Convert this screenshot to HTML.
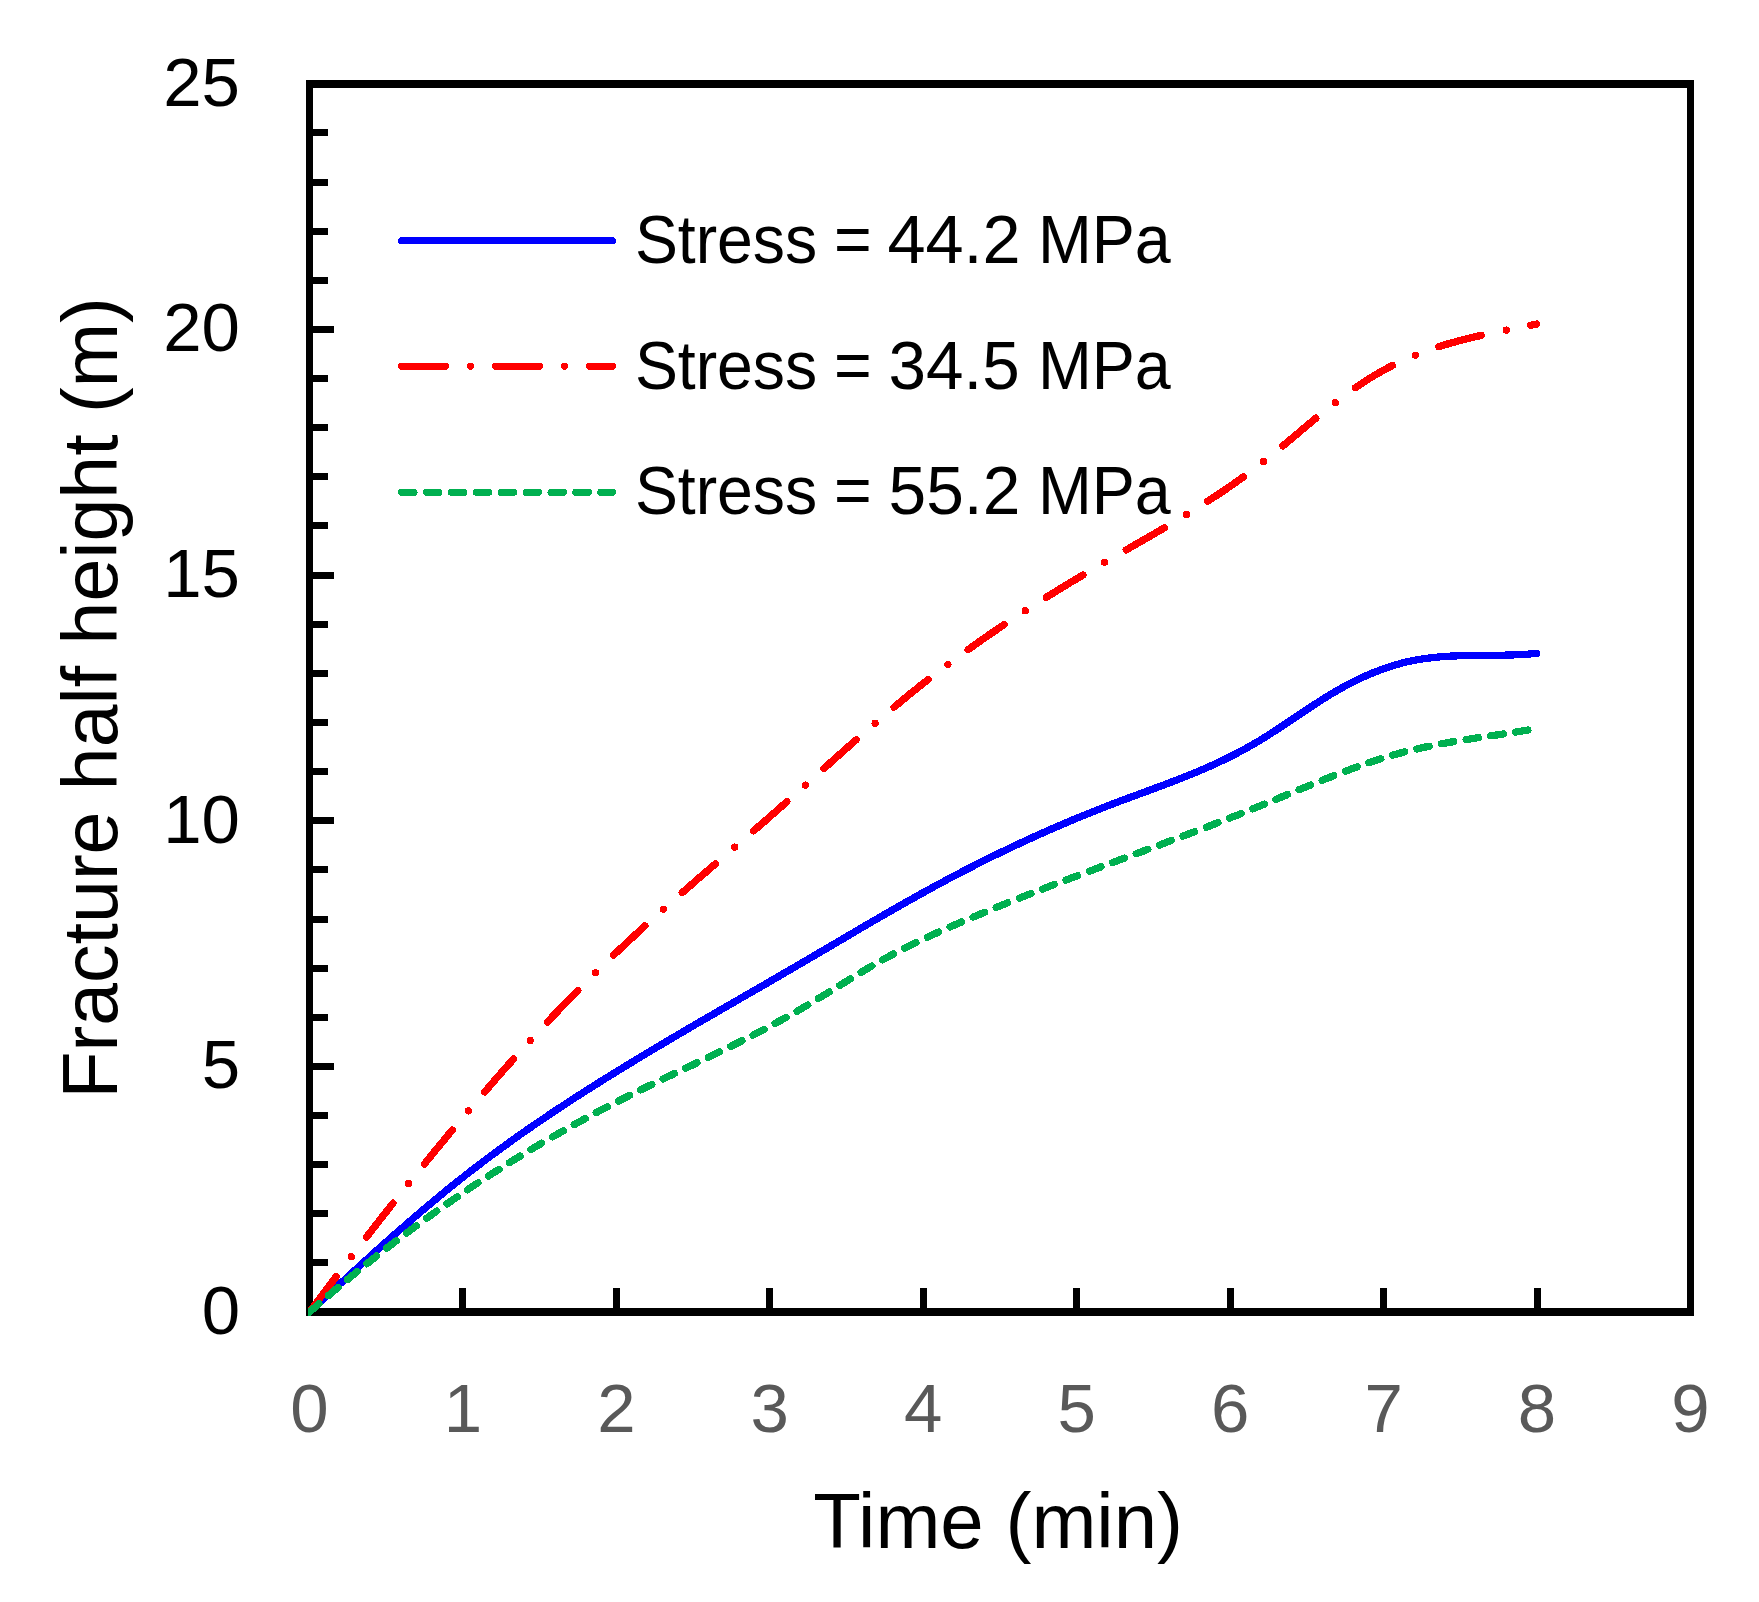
<!DOCTYPE html>
<html><head><meta charset="utf-8"><title>Fracture half height vs time</title>
<style>html,body{margin:0;padding:0;background:#fff;overflow:hidden;}svg{display:block;}text{font-family:"Liberation Sans",Arial,sans-serif;}</style></head><body>
<svg width="1759" height="1602" viewBox="0 0 1759 1602">
<rect x="0" y="0" width="1759" height="1602" fill="#fff"/>
<g fill="#000" shape-rendering="crispEdges">
<rect x="306" y="80" width="7" height="1236"/>
<rect x="306" y="80" width="1388" height="8"/>
<rect x="1687" y="80" width="7" height="1236"/>
<rect x="306" y="1308" width="1388" height="8"/>
<rect x="313" y="1259.4" width="15" height="7"/>
<rect x="313" y="1210.2" width="15" height="7"/>
<rect x="313" y="1161.1" width="15" height="7"/>
<rect x="313" y="1112.0" width="15" height="7"/>
<rect x="313" y="1062.8" width="21" height="7"/>
<rect x="313" y="1013.7" width="15" height="7"/>
<rect x="313" y="964.6" width="15" height="7"/>
<rect x="313" y="915.5" width="15" height="7"/>
<rect x="313" y="866.3" width="15" height="7"/>
<rect x="313" y="817.2" width="21" height="7"/>
<rect x="313" y="768.1" width="15" height="7"/>
<rect x="313" y="718.9" width="15" height="7"/>
<rect x="313" y="669.8" width="15" height="7"/>
<rect x="313" y="620.7" width="15" height="7"/>
<rect x="313" y="571.5" width="21" height="7"/>
<rect x="313" y="522.4" width="15" height="7"/>
<rect x="313" y="473.3" width="15" height="7"/>
<rect x="313" y="424.2" width="15" height="7"/>
<rect x="313" y="375.0" width="15" height="7"/>
<rect x="313" y="325.9" width="21" height="7"/>
<rect x="313" y="276.8" width="15" height="7"/>
<rect x="313" y="227.6" width="15" height="7"/>
<rect x="313" y="178.5" width="15" height="7"/>
<rect x="313" y="129.4" width="15" height="7"/>
<rect x="459.4" y="1288" width="7" height="20"/>
<rect x="612.9" y="1288" width="7" height="20"/>
<rect x="766.3" y="1288" width="7" height="20"/>
<rect x="919.8" y="1288" width="7" height="20"/>
<rect x="1073.2" y="1288" width="7" height="20"/>
<rect x="1226.6" y="1288" width="7" height="20"/>
<rect x="1380.1" y="1288" width="7" height="20"/>
<rect x="1533.5" y="1288" width="7" height="20"/>
</g>
<g font-size="69" fill="#000" text-anchor="end">
<text x="240" y="1334.0">0</text>
<text x="240" y="1088.3">5</text>
<text x="240" y="842.7">10</text>
<text x="240" y="597.0">15</text>
<text x="240" y="351.4">20</text>
<text x="240" y="105.8">25</text>
</g>
<g font-size="69" fill="#595959" text-anchor="middle">
<text x="309.5" y="1432">0</text>
<text x="462.9" y="1432">1</text>
<text x="616.4" y="1432">2</text>
<text x="769.8" y="1432">3</text>
<text x="923.3" y="1432">4</text>
<text x="1076.7" y="1432">5</text>
<text x="1230.1" y="1432">6</text>
<text x="1383.6" y="1432">7</text>
<text x="1537.0" y="1432">8</text>
<text x="1690.5" y="1432">9</text>
</g>
<text x="998.2" y="1548" font-size="78" text-anchor="middle" fill="#000">Time (min)</text>
<text transform="translate(117,698) rotate(-90)" font-size="77.1" text-anchor="middle" fill="#000">Fracture half height (m)</text>
<g stroke-width="7" stroke-linecap="round" fill="none" shape-rendering="crispEdges">
<line x1="401.5" y1="240.5" x2="612.5" y2="240.5" stroke="#0000FF"/>
<line x1="401.5" y1="366.4" x2="612.5" y2="366.4" stroke="#FF0000" stroke-dasharray="44 25 0.01 25"/>
<line x1="401.5" y1="492.3" x2="612.5" y2="492.3" stroke="#00B050" stroke-dasharray="12.6 12.3"/>
</g>
<g font-size="68" fill="#000">
<text x="634.9" y="262.8" textLength="182.3" lengthAdjust="spacingAndGlyphs">Stress</text>
<text x="834.1" y="262.8" textLength="37.7" lengthAdjust="spacingAndGlyphs">=</text>
<text x="887.4" y="262.8" textLength="133.3" lengthAdjust="spacingAndGlyphs">44.2</text>
<text x="1038.0" y="262.8" textLength="132.8" lengthAdjust="spacingAndGlyphs">MPa</text>
<text x="634.9" y="388.5" textLength="182.3" lengthAdjust="spacingAndGlyphs">Stress</text>
<text x="834.1" y="388.5" textLength="37.7" lengthAdjust="spacingAndGlyphs">=</text>
<text x="888.6" y="388.5" textLength="131.2" lengthAdjust="spacingAndGlyphs">34.5</text>
<text x="1038.0" y="388.5" textLength="132.8" lengthAdjust="spacingAndGlyphs">MPa</text>
<text x="634.9" y="513.7" textLength="182.3" lengthAdjust="spacingAndGlyphs">Stress</text>
<text x="834.1" y="513.7" textLength="37.7" lengthAdjust="spacingAndGlyphs">=</text>
<text x="888.6" y="513.7" textLength="131.7" lengthAdjust="spacingAndGlyphs">55.2</text>
<text x="1038.0" y="513.7" textLength="132.8" lengthAdjust="spacingAndGlyphs">MPa</text>
</g>
<defs><clipPath id="pa"><rect x="308" y="80" width="1386" height="1236"/></clipPath></defs>
<g clip-path="url(#pa)" shape-rendering="crispEdges" fill="none" stroke-width="7.3" stroke-linecap="round" stroke-linejoin="round">
<path d="M309.5 1312.0 L312.5 1309.2 L315.5 1306.5 L318.5 1303.7 L321.5 1301.0 L324.5 1298.2 L327.5 1295.4 L330.5 1292.7 L333.4 1289.9 L336.4 1287.2 L339.4 1284.4 L342.4 1281.7 L345.4 1278.9 L348.4 1276.2 L351.4 1273.4 L354.4 1270.7 L357.4 1268.0 L360.4 1265.3 L363.4 1262.5 L366.4 1259.8 L369.4 1257.1 L372.4 1254.4 L375.3 1251.7 L378.3 1249.0 L381.3 1246.3 L384.3 1243.7 L387.3 1241.0 L390.3 1238.3 L393.3 1235.7 L396.3 1233.0 L399.3 1230.4 L402.3 1227.8 L405.3 1225.2 L408.3 1222.6 L411.3 1220.0 L414.3 1217.4 L417.3 1214.8 L420.2 1212.3 L423.2 1209.7 L426.2 1207.2 L429.2 1204.7 L432.2 1202.2 L435.2 1199.7 L438.2 1197.2 L441.2 1194.7 L444.2 1192.3 L447.2 1189.8 L450.2 1187.4 L453.2 1185.0 L456.2 1182.6 L459.2 1180.2 L462.2 1177.9 L465.1 1175.5 L468.1 1173.2 L471.1 1170.9 L474.1 1168.5 L477.1 1166.3 L480.1 1164.0 L483.1 1161.7 L486.1 1159.5 L489.1 1157.2 L492.1 1155.0 L495.1 1152.8 L498.1 1150.6 L501.1 1148.4 L504.1 1146.2 L507.0 1144.1 L510.0 1141.9 L513.0 1139.8 L516.0 1137.6 L519.0 1135.5 L522.0 1133.4 L525.0 1131.3 L528.0 1129.2 L531.0 1127.2 L534.0 1125.1 L537.0 1123.0 L540.0 1121.0 L543.0 1119.0 L546.0 1116.9 L549.0 1114.9 L551.9 1112.9 L554.9 1110.9 L557.9 1108.9 L560.9 1107.0 L563.9 1105.0 L566.9 1103.0 L569.9 1101.1 L572.9 1099.1 L575.9 1097.2 L578.9 1095.3 L581.9 1093.4 L584.9 1091.4 L587.9 1089.5 L590.9 1087.6 L593.9 1085.7 L596.8 1083.9 L599.8 1082.0 L602.8 1080.1 L605.8 1078.2 L608.8 1076.4 L611.8 1074.5 L614.8 1072.7 L617.8 1070.8 L620.8 1069.0 L623.8 1067.2 L626.8 1065.3 L629.8 1063.5 L632.8 1061.7 L635.8 1059.9 L638.7 1058.1 L641.7 1056.3 L644.7 1054.5 L647.7 1052.7 L650.7 1050.9 L653.7 1049.1 L656.7 1047.3 L659.7 1045.5 L662.7 1043.8 L665.7 1042.0 L668.7 1040.2 L671.7 1038.4 L674.7 1036.7 L677.7 1034.9 L680.7 1033.2 L683.6 1031.4 L686.6 1029.7 L689.6 1027.9 L692.6 1026.2 L695.6 1024.4 L698.6 1022.7 L701.6 1020.9 L704.6 1019.2 L707.6 1017.5 L710.6 1015.7 L713.6 1014.0 L716.6 1012.3 L719.6 1010.5 L722.6 1008.8 L725.6 1007.1 L728.5 1005.3 L731.5 1003.6 L734.5 1001.9 L737.5 1000.2 L740.5 998.4 L743.5 996.7 L746.5 995.0 L749.5 993.3 L752.5 991.5 L755.5 989.8 L758.5 988.1 L761.5 986.4 L764.5 984.6 L767.5 982.9 L770.4 981.2 L773.4 979.4 L776.4 977.7 L779.4 976.0 L782.4 974.2 L785.4 972.5 L788.4 970.8 L791.4 969.0 L794.4 967.3 L797.4 965.5 L800.4 963.8 L803.4 962.0 L806.4 960.3 L809.4 958.5 L812.4 956.8 L815.3 955.0 L818.3 953.2 L821.3 951.5 L824.3 949.7 L827.3 948.0 L830.3 946.2 L833.3 944.4 L836.3 942.7 L839.3 940.9 L842.3 939.2 L845.3 937.4 L848.3 935.6 L851.3 933.9 L854.3 932.1 L857.3 930.4 L860.2 928.6 L863.2 926.9 L866.2 925.1 L869.2 923.4 L872.2 921.6 L875.2 919.9 L878.2 918.2 L881.2 916.4 L884.2 914.7 L887.2 913.0 L890.2 911.3 L893.2 909.5 L896.2 907.8 L899.2 906.1 L902.1 904.4 L905.1 902.7 L908.1 901.0 L911.1 899.4 L914.1 897.7 L917.1 896.0 L920.1 894.3 L923.1 892.7 L926.1 891.0 L929.1 889.4 L932.1 887.7 L935.1 886.1 L938.1 884.5 L941.1 882.9 L944.1 881.3 L947.0 879.7 L950.0 878.1 L953.0 876.5 L956.0 874.9 L959.0 873.4 L962.0 871.8 L965.0 870.3 L968.0 868.7 L971.0 867.2 L974.0 865.7 L977.0 864.1 L980.0 862.6 L983.0 861.1 L986.0 859.6 L988.9 858.2 L991.9 856.7 L994.9 855.2 L997.9 853.8 L1000.9 852.3 L1003.9 850.9 L1006.9 849.4 L1009.9 848.0 L1012.9 846.6 L1015.9 845.2 L1018.9 843.8 L1021.9 842.4 L1024.9 841.0 L1027.9 839.6 L1030.9 838.3 L1033.8 836.9 L1036.8 835.5 L1039.8 834.2 L1042.8 832.9 L1045.8 831.5 L1048.8 830.2 L1051.8 828.9 L1054.8 827.6 L1057.8 826.3 L1060.8 825.0 L1063.8 823.7 L1066.8 822.5 L1069.8 821.2 L1072.8 819.9 L1075.8 818.7 L1078.7 817.4 L1081.7 816.2 L1084.7 815.0 L1087.7 813.8 L1090.7 812.6 L1093.7 811.4 L1096.7 810.2 L1099.7 809.0 L1102.7 807.8 L1105.7 806.7 L1108.7 805.5 L1111.7 804.3 L1114.7 803.2 L1117.7 802.1 L1120.6 800.9 L1123.6 799.8 L1126.6 798.7 L1129.6 797.6 L1132.6 796.5 L1135.6 795.4 L1138.6 794.3 L1141.6 793.2 L1144.6 792.1 L1147.6 791.0 L1150.6 789.9 L1153.6 788.8 L1156.6 787.6 L1159.6 786.5 L1162.6 785.4 L1165.5 784.3 L1168.5 783.1 L1171.5 782.0 L1174.5 780.9 L1177.5 779.7 L1180.5 778.5 L1183.5 777.3 L1186.5 776.1 L1189.5 774.9 L1192.5 773.7 L1195.5 772.5 L1198.5 771.2 L1201.5 769.9 L1204.5 768.7 L1207.5 767.4 L1210.4 766.0 L1213.4 764.7 L1216.4 763.3 L1219.4 761.9 L1222.4 760.5 L1225.4 759.1 L1228.4 757.6 L1231.4 756.1 L1234.4 754.6 L1237.4 753.0 L1240.4 751.4 L1243.4 749.8 L1246.4 748.2 L1249.4 746.5 L1252.3 744.8 L1255.3 743.1 L1258.3 741.3 L1261.3 739.5 L1264.3 737.6 L1267.3 735.7 L1270.3 733.8 L1273.3 731.9 L1276.3 730.0 L1279.3 728.0 L1282.3 726.0 L1285.3 724.0 L1288.3 722.0 L1291.3 720.0 L1294.3 718.0 L1297.2 716.0 L1300.2 714.0 L1303.2 712.0 L1306.2 710.0 L1309.2 708.0 L1312.2 706.0 L1315.2 704.1 L1318.2 702.1 L1321.2 700.2 L1324.2 698.3 L1327.2 696.5 L1330.2 694.6 L1333.2 692.8 L1336.2 691.1 L1339.2 689.4 L1342.1 687.7 L1345.1 686.0 L1348.1 684.5 L1351.1 682.9 L1354.1 681.4 L1357.1 679.9 L1360.1 678.5 L1363.1 677.1 L1366.1 675.7 L1369.1 674.4 L1372.1 673.2 L1375.1 672.0 L1378.1 670.8 L1381.1 669.7 L1384.0 668.6 L1387.0 667.6 L1390.0 666.6 L1393.0 665.6 L1396.0 664.7 L1399.0 663.9 L1402.0 663.1 L1405.0 662.3 L1408.0 661.6 L1411.0 661.0 L1414.0 660.4 L1417.0 659.8 L1420.0 659.3 L1423.0 658.8 L1426.0 658.4 L1428.9 658.0 L1431.9 657.7 L1434.9 657.3 L1437.9 657.1 L1440.9 656.8 L1443.9 656.6 L1446.9 656.4 L1449.9 656.2 L1452.9 656.0 L1455.9 655.9 L1458.9 655.8 L1461.9 655.7 L1464.9 655.6 L1467.9 655.6 L1470.9 655.5 L1473.8 655.5 L1476.8 655.4 L1479.8 655.4 L1482.8 655.4 L1485.8 655.4 L1488.8 655.4 L1491.8 655.3 L1494.8 655.3 L1497.8 655.3 L1500.8 655.2 L1503.8 655.2 L1506.8 655.1 L1509.8 655.0 L1512.8 654.9 L1515.7 654.8 L1518.7 654.7 L1521.7 654.5 L1524.7 654.4 L1527.7 654.2 L1530.7 653.9 L1533.7 653.7 L1536.7 653.4" stroke="#0000FF"/>
<path d="M309.5 1312.0 L311.3 1309.6 L313.0 1307.3 L314.8 1304.9 L316.6 1302.6 L318.3 1300.2 L320.1 1297.9 L321.9 1295.5 L323.7 1293.2 L325.4 1290.8 L327.2 1288.4 L329.0 1286.1 L330.8 1283.7 L332.6 1281.4 L334.3 1279.0 L336.1 1276.7 M366.6 1237.0 L368.3 1234.8 L370.1 1232.5 L371.8 1230.2 L373.6 1228.0 L375.4 1225.7 L377.1 1223.5 L378.9 1221.2 L380.6 1218.9 L382.4 1216.7 L384.2 1214.4 L385.9 1212.2 L387.7 1209.9 L389.5 1207.7 L391.3 1205.4 L393.0 1203.2 M424.3 1164.1 L426.1 1161.9 L428.0 1159.6 L429.8 1157.3 L431.7 1155.0 L433.5 1152.8 L435.4 1150.5 L437.3 1148.2 L439.1 1146.0 L441.0 1143.7 L442.9 1141.4 L444.7 1139.2 L446.6 1136.9 L448.5 1134.6 L450.3 1132.4 L452.2 1130.1 M484.6 1091.9 L486.6 1089.7 L488.5 1087.5 L490.4 1085.3 L492.3 1083.1 L494.2 1080.9 L496.1 1078.7 L498.1 1076.5 L500.0 1074.3 L501.9 1072.1 L503.8 1069.9 L505.8 1067.7 L507.7 1065.5 L509.6 1063.4 L511.6 1061.2 L513.5 1059.0 M547.3 1022.1 L549.3 1020.0 L551.3 1017.9 L553.3 1015.7 L555.3 1013.6 L557.4 1011.5 L559.4 1009.4 L561.4 1007.2 L563.4 1005.1 L565.5 1003.0 L567.5 1000.9 L569.6 998.8 L571.6 996.7 L573.7 994.6 L575.7 992.5 L577.8 990.4 M613.5 955.3 L615.5 953.3 L617.6 951.3 L619.7 949.3 L621.8 947.4 L623.9 945.4 L626.0 943.4 L628.1 941.5 L630.2 939.5 L632.3 937.6 L634.4 935.6 L636.5 933.7 L638.6 931.7 L640.7 929.8 L642.8 927.9 L644.9 925.9 M682.2 892.6 L684.4 890.7 L686.6 888.8 L688.9 886.8 L691.1 884.9 L693.3 883.0 L695.5 881.1 L697.7 879.1 L699.9 877.2 L702.1 875.3 L704.4 873.4 L706.6 871.5 L708.8 869.5 L711.0 867.6 L713.2 865.7 L715.5 863.8 M753.7 830.8 L755.9 828.9 L758.1 826.9 L760.4 825.0 L762.6 823.1 L764.8 821.2 L767.0 819.2 L769.2 817.3 L771.4 815.4 L773.6 813.4 L775.8 811.5 L778.0 809.5 L780.2 807.6 L782.4 805.6 L784.6 803.7 L786.8 801.8 M824.0 768.4 L826.2 766.5 L828.3 764.6 L830.4 762.7 L832.6 760.7 L834.7 758.8 L836.9 756.9 L839.0 755.0 L841.2 753.1 L843.3 751.2 L845.5 749.3 L847.6 747.3 L849.8 745.4 L851.9 743.5 L854.1 741.6 L856.3 739.7 M894.1 707.1 L896.4 705.2 L898.6 703.4 L900.8 701.5 L903.1 699.7 L905.3 697.8 L907.6 696.0 L909.8 694.1 L912.1 692.3 L914.4 690.5 L916.6 688.7 L918.9 686.8 L921.2 685.0 L923.5 683.2 L925.8 681.4 L928.0 679.6 M968.1 649.7 L970.4 648.0 L972.8 646.3 L975.2 644.6 L977.6 642.9 L980.0 641.2 L982.4 639.5 L984.8 637.8 L987.2 636.1 L989.6 634.5 L992.1 632.8 L994.5 631.2 L996.9 629.5 L999.3 627.9 L1001.8 626.2 L1004.2 624.6 M1046.3 597.3 L1048.7 595.8 L1051.2 594.3 L1053.6 592.8 L1056.0 591.3 L1058.5 589.8 L1060.9 588.3 L1063.4 586.8 L1065.8 585.3 L1068.3 583.8 L1070.7 582.3 L1073.2 580.9 L1075.6 579.4 L1078.1 577.9 L1080.5 576.5 L1083.0 575.0 M1126.2 549.9 L1128.8 548.4 L1131.3 546.9 L1133.9 545.5 L1136.4 544.0 L1138.9 542.6 L1141.5 541.1 L1144.0 539.7 L1146.6 538.2 L1149.1 536.7 L1151.7 535.3 L1154.2 533.8 L1156.7 532.3 L1159.3 530.8 L1161.8 529.4 L1164.3 527.9 M1207.7 501.3 L1210.1 499.7 L1212.5 498.1 L1215.0 496.5 L1217.4 494.9 L1219.8 493.3 L1222.2 491.7 L1224.6 490.1 L1227.0 488.4 L1229.4 486.8 L1231.8 485.1 L1234.1 483.5 L1236.5 481.8 L1238.9 480.1 L1241.2 478.4 L1243.6 476.7 M1282.9 445.9 L1285.1 444.0 L1287.3 442.2 L1289.5 440.3 L1291.7 438.5 L1293.9 436.6 L1296.1 434.8 L1298.3 433.0 L1300.4 431.1 L1302.6 429.3 L1304.8 427.4 L1307.0 425.6 L1309.2 423.7 L1311.4 421.9 L1313.6 420.1 L1315.8 418.2 M1355.4 387.7 L1357.8 386.1 L1360.2 384.5 L1362.6 382.9 L1365.0 381.3 L1367.4 379.7 L1369.9 378.2 L1372.3 376.7 L1374.8 375.2 L1377.3 373.7 L1379.8 372.3 L1382.3 370.9 L1384.8 369.5 L1387.4 368.1 L1390.0 366.8 L1392.5 365.5 M1438.8 346.7 L1441.6 345.8 L1444.4 344.9 L1447.2 344.1 L1450.0 343.3 L1452.9 342.5 L1455.7 341.7 L1458.5 340.9 L1461.4 340.2 L1464.2 339.4 L1467.0 338.7 L1469.9 338.0 L1472.7 337.3 L1475.6 336.7 L1478.5 336.0 L1481.3 335.4 M1530.8 325.2 L1533.7 324.7 L1536.5 324.1" stroke="#FF0000"/>
<g fill="#FF0000" stroke="none">
<circle cx="351.3" cy="1256.8" r="3.65"/>
<circle cx="408.6" cy="1183.6" r="3.65"/>
<circle cx="468.4" cy="1110.9" r="3.65"/>
<circle cx="530.3" cy="1040.5" r="3.65"/>
<circle cx="595.5" cy="972.7" r="3.65"/>
<circle cx="663.5" cy="909.2" r="3.65"/>
<circle cx="734.8" cy="847.1" r="3.65"/>
<circle cx="805.4" cy="785.1" r="3.65"/>
<circle cx="875.1" cy="723.3" r="3.65"/>
<circle cx="947.9" cy="664.5" r="3.65"/>
<circle cx="1025.2" cy="610.8" r="3.65"/>
<circle cx="1104.5" cy="562.3" r="3.65"/>
<circle cx="1186.5" cy="514.6" r="3.65"/>
<circle cx="1263.5" cy="461.6" r="3.65"/>
<circle cx="1335.3" cy="402.6" r="3.65"/>
<circle cx="1415.3" cy="355.2" r="3.65"/>
<circle cx="1506.3" cy="330.1" r="3.65"/>
</g>
<path d="M309.5 1312.0 L312.5 1309.4 L315.5 1306.8 L318.5 1304.2 L321.5 1301.6 L324.5 1299.0 L327.5 1296.4 L330.5 1293.9 L333.4 1291.3 L336.4 1288.8 L339.4 1286.3 L342.4 1283.8 L345.4 1281.3 L348.4 1278.8 L351.4 1276.3 L354.4 1273.9 L357.4 1271.4 L360.4 1269.0 L363.4 1266.6 L366.4 1264.2 L369.4 1261.8 L372.4 1259.4 L375.3 1257.0 L378.3 1254.7 L381.3 1252.3 L384.3 1250.0 L387.3 1247.7 L390.3 1245.4 L393.3 1243.1 L396.3 1240.8 L399.3 1238.5 L402.3 1236.3 L405.3 1234.0 L408.3 1231.8 L411.3 1229.6 L414.3 1227.3 L417.3 1225.1 L420.2 1223.0 L423.2 1220.8 L426.2 1218.6 L429.2 1216.4 L432.2 1214.3 L435.2 1212.2 L438.2 1210.0 L441.2 1207.9 L444.2 1205.8 L447.2 1203.7 L450.2 1201.7 L453.2 1199.6 L456.2 1197.5 L459.2 1195.5 L462.2 1193.5 L465.1 1191.4 L468.1 1189.4 L471.1 1187.4 L474.1 1185.4 L477.1 1183.4 L480.1 1181.5 L483.1 1179.5 L486.1 1177.6 L489.1 1175.6 L492.1 1173.7 L495.1 1171.8 L498.1 1169.9 L501.1 1168.0 L504.1 1166.1 L507.0 1164.2 L510.0 1162.3 L513.0 1160.5 L516.0 1158.6 L519.0 1156.8 L522.0 1154.9 L525.0 1153.1 L528.0 1151.3 L531.0 1149.5 L534.0 1147.7 L537.0 1145.9 L540.0 1144.2 L543.0 1142.4 L546.0 1140.7 L549.0 1138.9 L551.9 1137.2 L554.9 1135.5 L557.9 1133.8 L560.9 1132.1 L563.9 1130.4 L566.9 1128.7 L569.9 1127.0 L572.9 1125.3 L575.9 1123.7 L578.9 1122.0 L581.9 1120.4 L584.9 1118.8 L587.9 1117.1 L590.9 1115.5 L593.9 1113.9 L596.8 1112.3 L599.8 1110.7 L602.8 1109.1 L605.8 1107.6 L608.8 1106.0 L611.8 1104.5 L614.8 1102.9 L617.8 1101.4 L620.8 1099.9 L623.8 1098.3 L626.8 1096.8 L629.8 1095.3 L632.8 1093.8 L635.8 1092.3 L638.7 1090.9 L641.7 1089.4 L644.7 1087.9 L647.7 1086.4 L650.7 1085.0 L653.7 1083.5 L656.7 1082.1 L659.7 1080.6 L662.7 1079.2 L665.7 1077.8 L668.7 1076.3 L671.7 1074.9 L674.7 1073.4 L677.7 1072.0 L680.7 1070.6 L683.6 1069.1 L686.6 1067.7 L689.6 1066.3 L692.6 1064.9 L695.6 1063.4 L698.6 1062.0 L701.6 1060.5 L704.6 1059.1 L707.6 1057.7 L710.6 1056.2 L713.6 1054.8 L716.6 1053.3 L719.6 1051.9 L722.6 1050.4 L725.6 1048.9 L728.5 1047.4 L731.5 1046.0 L734.5 1044.5 L737.5 1043.0 L740.5 1041.5 L743.5 1040.0 L746.5 1038.5 L749.5 1036.9 L752.5 1035.4 L755.5 1033.9 L758.5 1032.3 L761.5 1030.7 L764.5 1029.2 L767.5 1027.6 L770.4 1026.0 L773.4 1024.4 L776.4 1022.7 L779.4 1021.1 L782.4 1019.5 L785.4 1017.8 L788.4 1016.1 L791.4 1014.4 L794.4 1012.7 L797.4 1011.0 L800.4 1009.3 L803.4 1007.5 L806.4 1005.8 L809.4 1004.0 L812.4 1002.2 L815.3 1000.4 L818.3 998.6 L821.3 996.7 L824.3 994.9 L827.3 993.1 L830.3 991.2 L833.3 989.4 L836.3 987.5 L839.3 985.7 L842.3 983.8 L845.3 982.0 L848.3 980.2 L851.3 978.3 L854.3 976.5 L857.3 974.7 L860.2 972.9 L863.2 971.1 L866.2 969.3 L869.2 967.6 L872.2 965.8 L875.2 964.1 L878.2 962.4 L881.2 960.7 L884.2 959.0 L887.2 957.4 L890.2 955.7 L893.2 954.1 L896.2 952.6 L899.2 951.0 L902.1 949.5 L905.1 948.0 L908.1 946.5 L911.1 945.0 L914.1 943.5 L917.1 942.1 L920.1 940.6 L923.1 939.2 L926.1 937.8 L929.1 936.4 L932.1 935.0 L935.1 933.7 L938.1 932.3 L941.1 931.0 L944.1 929.6 L947.0 928.3 L950.0 927.0 L953.0 925.7 L956.0 924.4 L959.0 923.1 L962.0 921.8 L965.0 920.5 L968.0 919.3 L971.0 918.0 L974.0 916.7 L977.0 915.5 L980.0 914.2 L983.0 913.0 L986.0 911.7 L988.9 910.5 L991.9 909.2 L994.9 908.0 L997.9 906.8 L1000.9 905.6 L1003.9 904.4 L1006.9 903.1 L1009.9 901.9 L1012.9 900.7 L1015.9 899.5 L1018.9 898.4 L1021.9 897.2 L1024.9 896.0 L1027.9 894.8 L1030.9 893.6 L1033.8 892.5 L1036.8 891.3 L1039.8 890.1 L1042.8 889.0 L1045.8 887.8 L1048.8 886.6 L1051.8 885.5 L1054.8 884.3 L1057.8 883.2 L1060.8 882.0 L1063.8 880.9 L1066.8 879.8 L1069.8 878.6 L1072.8 877.5 L1075.8 876.3 L1078.7 875.2 L1081.7 874.1 L1084.7 873.0 L1087.7 871.8 L1090.7 870.7 L1093.7 869.6 L1096.7 868.4 L1099.7 867.3 L1102.7 866.2 L1105.7 865.1 L1108.7 864.0 L1111.7 862.8 L1114.7 861.7 L1117.7 860.6 L1120.6 859.5 L1123.6 858.4 L1126.6 857.3 L1129.6 856.1 L1132.6 855.0 L1135.6 853.9 L1138.6 852.8 L1141.6 851.7 L1144.6 850.6 L1147.6 849.4 L1150.6 848.3 L1153.6 847.2 L1156.6 846.1 L1159.6 845.0 L1162.6 843.8 L1165.5 842.7 L1168.5 841.6 L1171.5 840.4 L1174.5 839.3 L1177.5 838.2 L1180.5 837.1 L1183.5 835.9 L1186.5 834.8 L1189.5 833.6 L1192.5 832.5 L1195.5 831.4 L1198.5 830.2 L1201.5 829.1 L1204.5 827.9 L1207.5 826.8 L1210.4 825.6 L1213.4 824.4 L1216.4 823.3 L1219.4 822.1 L1222.4 821.0 L1225.4 819.8 L1228.4 818.6 L1231.4 817.4 L1234.4 816.2 L1237.4 815.1 L1240.4 813.9 L1243.4 812.7 L1246.4 811.5 L1249.4 810.3 L1252.3 809.1 L1255.3 807.8 L1258.3 806.6 L1261.3 805.4 L1264.3 804.2 L1267.3 802.9 L1270.3 801.7 L1273.3 800.5 L1276.3 799.2 L1279.3 798.0 L1282.3 796.7 L1285.3 795.5 L1288.3 794.2 L1291.3 793.0 L1294.3 791.8 L1297.2 790.5 L1300.2 789.3 L1303.2 788.0 L1306.2 786.8 L1309.2 785.6 L1312.2 784.3 L1315.2 783.1 L1318.2 781.9 L1321.2 780.7 L1324.2 779.5 L1327.2 778.3 L1330.2 777.1 L1333.2 775.9 L1336.2 774.8 L1339.2 773.6 L1342.1 772.4 L1345.1 771.3 L1348.1 770.2 L1351.1 769.1 L1354.1 768.0 L1357.1 766.9 L1360.1 765.8 L1363.1 764.8 L1366.1 763.7 L1369.1 762.7 L1372.1 761.7 L1375.1 760.7 L1378.1 759.7 L1381.1 758.8 L1384.0 757.8 L1387.0 756.9 L1390.0 756.0 L1393.0 755.1 L1396.0 754.3 L1399.0 753.4 L1402.0 752.6 L1405.0 751.8 L1408.0 751.1 L1411.0 750.3 L1414.0 749.6 L1417.0 748.9 L1420.0 748.2 L1423.0 747.6 L1426.0 746.9 L1428.9 746.3 L1431.9 745.7 L1434.9 745.1 L1437.9 744.5 L1440.9 743.9 L1443.9 743.4 L1446.9 742.8 L1449.9 742.3 L1452.9 741.8 L1455.9 741.3 L1458.9 740.8 L1461.9 740.3 L1464.9 739.8 L1467.9 739.3 L1470.9 738.9 L1473.8 738.4 L1476.8 737.9 L1479.8 737.5 L1482.8 737.0 L1485.8 736.6 L1488.8 736.1 L1491.8 735.7 L1494.8 735.2 L1497.8 734.8 L1500.8 734.3 L1503.8 733.9 L1506.8 733.4 L1509.8 733.0 L1512.8 732.5 L1515.7 732.0 L1518.7 731.6 L1521.7 731.1 L1524.7 730.6 L1527.7 730.1 L1530.7 729.6 L1533.7 729.0 L1536.7 728.5" stroke="#00B050" stroke-dasharray="12.5 12.5"/>
</g>
</svg>
</body></html>
